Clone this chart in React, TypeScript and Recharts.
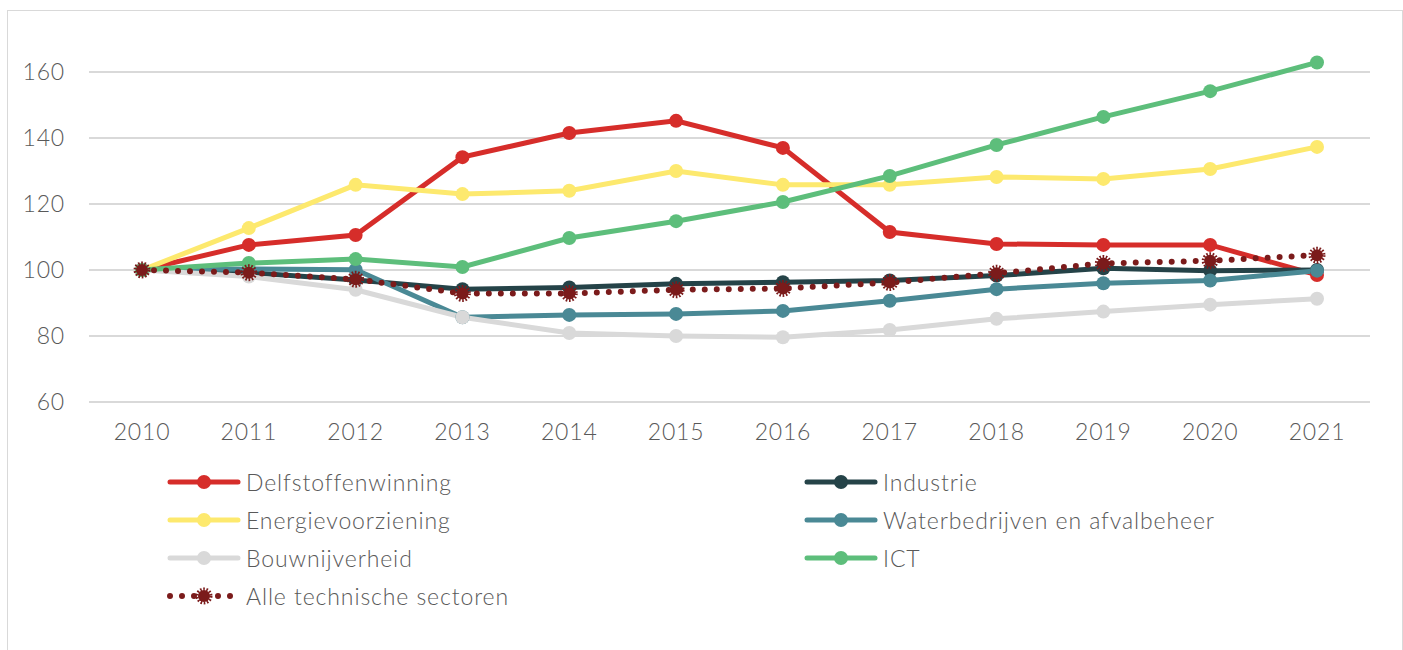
import React from "react";
import { LineChart, Line, XAxis, YAxis, ReferenceLine } from "recharts";

const years = ['2010', '2011', '2012', '2013', '2014', '2015', '2016', '2017', '2018', '2019', '2020', '2021'];
const delfstoffen = [100, 107.6, 110.6, 134.2, 141.5, 145.2, 137, 111.5, 107.9, 107.6, 107.6, 98.5];
const industrie = [100, 99.2, 97, 94.2, 94.7, 95.8, 96.3, 96.8, 98.3, 100.5, 99.8, 100];
const energie = [100, 112.7, 125.8, 123, 124, 130, 125.8, 125.8, 128.2, 127.6, 130.6, 137.3];
const water = [100, 100.3, 100.1, 85.7, 86.4, 86.7, 87.6, 90.7, 94.2, 96, 96.8, 99.8];
const bouw = [100, 98, 94, 85.7, 80.9, 80, 79.6, 81.8, 85.2, 87.4, 89.5, 91.3];
const ict = [100, 102.1, 103.3, 100.9, 109.7, 114.8, 120.6, 128.5, 137.9, 146.4, 154.2, 162.9];
const alle = [100, 99.2, 97.2, 92.9, 92.9, 94, 94.4, 96.2, 99, 102, 102.8, 104.5];
const yTicks = [60, 80, 100, 120, 140, 160];

const data = years.map((year, i) => ({
  year,
  delf: delfstoffen[i],
  ind: industrie[i],
  ener: energie[i],
  water: water[i],
  bouw: bouw[i],
  ict: ict[i],
  alle: alle[i],
}));

// draw order (later = on top)
const series = [
  { key: 'delf', name: 'Delfstoffenwinning', color: '#d62d2a' },
  { key: 'ind', name: 'Industrie', color: '#254348' },
  { key: 'ener', name: 'Energievoorziening', color: '#fde96e' },
  { key: 'water', name: 'Waterbedrijven en afvalbeheer', color: '#4a8995' },
  { key: 'bouw', name: 'Bouwnijverheid', color: '#d9d9d9' },
  { key: 'ict', name: 'ICT', color: '#5dbe7b' },
  { key: 'alle', name: 'Alle technische sectoren', color: '#7b1b1b', dotted: true },
];

const legendOrder = ['delf', 'ind', 'ener', 'water', 'bouw', 'ict', 'alle'];

const font = 'Lato, "Open Sans", sans-serif';
const textColor = '#595959';

const DottedDot = (props: any) => {
  const { cx, cy, fill } = props;
  if (cx == null || cy == null) return null;
  return (
    <g>
      <circle cx={cx} cy={cy} r={6} fill={fill} />
      <circle cx={cx} cy={cy} r={7} fill="none" stroke={fill} strokeWidth={3} strokeDasharray="1.6 1.6" />
    </g>
  );
};

const LegendIcon = ({ color, dotted }: { color: string; dotted?: boolean }) => (
  <svg width={74} height={20} style={{ display: 'block' }}>
    {dotted ? (
      <g>
        <line x1={3} y1={10} x2={71} y2={10} stroke={color} strokeWidth={6} strokeDasharray="0 12" strokeLinecap="round" />
        <circle cx={37} cy={10} r={6} fill={color} />
        <circle cx={37} cy={10} r={7} fill="none" stroke={color} strokeWidth={3} strokeDasharray="1.6 1.6" />
      </g>
    ) : (
      <g>
        <line x1={3} y1={10} x2={71} y2={10} stroke={color} strokeWidth={5} strokeLinecap="round" />
        <circle cx={37} cy={10} r={7} fill={color} />
      </g>
    )}
  </svg>
);

const tickStyle = { fill: textColor, fontSize: 23, fontFamily: font, fontWeight: 300, letterSpacing: 0.8 };

export default function App() {
  return (
    <>
      <style>{`body{margin:0;overflow:hidden;background:#fff}`}</style>
      <div
        style={{
          position: 'absolute',
          left: 7,
          top: 10,
          width: 1396,
          height: 660,
          border: '1px solid #d9d9d9',
          boxSizing: 'border-box',
          background: '#fff',
          fontFamily: font,
        }}
      >
        <LineChart width={1392} height={436} data={data} margin={{ top: 28, right: 30, bottom: 0, left: 0 }}>
          <XAxis
            dataKey="year"
            height={45}
            padding={{ left: 53, right: 53 }}
            tickLine={false}
            axisLine={{ stroke: '#d9d9d9', strokeWidth: 2 }}
            tickMargin={16}
            tick={tickStyle}
            interval={0}
          />
          <YAxis
            width={81}
            domain={[60, 170]}
            ticks={yTicks}
            tickLine={false}
            axisLine={false}
            tickSize={0}
            tickMargin={24}
            tick={tickStyle}
          />
          {/* grid rows only at the labelled ticks */}
          {yTicks.map((v) => (
            <ReferenceLine key={v} y={v} stroke="#d9d9d9" strokeWidth={2} />
          ))}
          {series.map((s) => (
            <Line
              key={s.key}
              dataKey={s.key}
              name={s.name}
              type="linear"
              stroke={s.color}
              strokeWidth={s.dotted ? 6 : 5}
              strokeDasharray={s.dotted ? '0 12' : undefined}
              strokeLinecap="round"
              dot={s.dotted ? <DottedDot fill={s.color} /> : { r: 7, fill: s.color, stroke: 'none' }}
              isAnimationActive={false}
            />
          ))}
        </LineChart>
        {legendOrder.map((k, i) => {
          const s = series.find((x) => x.key === k)!;
          const col = i % 2;
          const row = Math.floor(i / 2);
          return (
            <div
              key={k}
              style={{
                position: 'absolute',
                left: col === 0 ? 159 : 796,
                top: 461 + row * 38,
                display: 'flex',
                alignItems: 'center',
                height: 20,
                color: textColor,
                fontSize: 23,
                fontWeight: 300,
                letterSpacing: 0.9,
                whiteSpace: 'nowrap',
              }}
            >
              <LegendIcon color={s.color} dotted={s.dotted} />
              <span style={{ marginLeft: 5 }}>{s.name}</span>
            </div>
          );
        })}
      </div>
    </>
  );
}
